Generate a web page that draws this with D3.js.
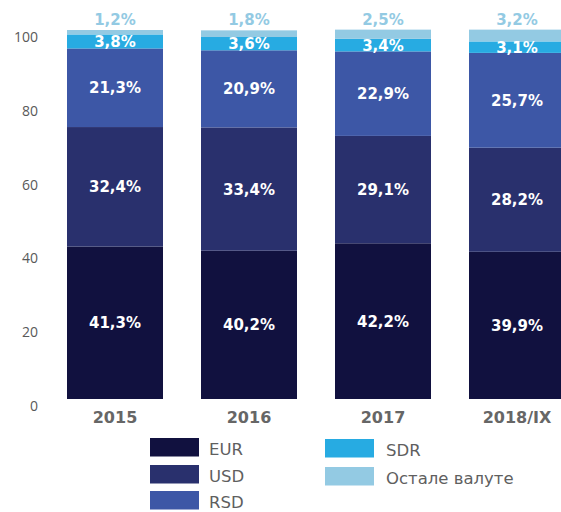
<!DOCTYPE html>
<html>
<head>
<meta charset="utf-8">
<script src="https://cdn.jsdelivr.net/npm/d3@7"></script>
<style>
  body { margin: 0; background: #fff; }
  svg { display: block; font-family: "DejaVu Sans", Verdana, sans-serif; }
</style>
</head>
<body>
<script>
// datos
var categorias = ["2015", "2016", "2017", "2018/IX"]
var eur = [41.3, 40.2, 42.2, 39.9]
var usd = [32.4, 33.4, 29.1, 28.2]
var rsd = [21.3, 20.9, 22.9, 25.7]
var sdr = [3.8, 3.6, 3.4, 3.1]
var otras = [1.2, 1.8, 2.5, 3.2]
var series = ["EUR", "USD", "RSD", "SDR", "Остале валуте"]
var ticksY = [0, 20, 40, 60, 80, 100]

var colores = ["#11113f", "#29306d", "#3d57a6", "#27abe2", "#93cae3"]

var width = 561
var height = 512

var datos = categorias.map(function (c, i) {
    return { cat: c, "EUR": eur[i], "USD": usd[i], "RSD": rsd[i], "SDR": sdr[i], "Остале валуте": otras[i] }
})

var escalaX = d3.scaleBand()
    .domain(categorias)
    .range([67, 565])
    .paddingInner(0.2836)

var escalaY = d3.scaleLinear()
    .domain([0, 100])
    .range([399, 30])

var escalaColor = d3.scaleOrdinal()
    .domain(series)
    .range(colores)

var formato = function (v) { return d3.format(".1f")(v).replace(".", ",") + "%" }

var svg = d3.select("body")
    .append("svg")
    .attr("width", width)
    .attr("height", height)

var pilas = d3.stack().keys(series)(datos)

// barras
var grupos = svg.selectAll("g.serie")
    .data(pilas)
    .enter()
    .append("g")
    .attr("class", "serie")
    .attr("fill", d => escalaColor(d.key))

grupos.selectAll("rect")
    .data(d => d)
    .enter()
    .append("rect")
    .attr("x", d => escalaX(d.data.cat))
    .attr("width", escalaX.bandwidth())
    .attr("y", d => escalaY(d[1]))
    .attr("height", d => escalaY(d[0]) - escalaY(d[1]))

// etiquetas de valores
pilas.forEach(function (serie, k) {
    svg.append("g")
        .selectAll("text")
        .data(serie)
        .enter()
        .append("text")
        .attr("x", d => escalaX(d.data.cat) + escalaX.bandwidth() / 2)
        .attr("y", function (d) {
            if (k == 4) return escalaY(d[1]) - 5
            return (escalaY(d[0]) + escalaY(d[1])) / 2 + 5.5
        })
        .attr("text-anchor", "middle")
        .attr("font-size", "15px")
        .attr("font-weight", "bold")
        .attr("fill", k == 4 ? "#93cae3" : "#ffffff")
        .text(d => formato(d[1] - d[0]))
})

// eje Y
var ejeY = d3.axisLeft(escalaY)
    .tickValues(ticksY)
    .tickSize(0)
    .tickPadding(0)

var gY = svg.append("g")
    .attr("transform", "translate(38,7)")
    .call(ejeY)
gY.select(".domain").remove()
gY.selectAll("text")
    .attr("font-family", "'Open Sans', sans-serif")
    .attr("font-size", "14px")
    .attr("fill", "#595959")

// eje X
var ejeX = d3.axisBottom(escalaX)
    .tickSize(0)
    .tickPadding(0)

var gX = svg.append("g")
    .attr("transform", "translate(0,412)")
    .call(ejeX)
gX.select(".domain").remove()
gX.selectAll("text")
    .attr("font-family", "'DejaVu Sans', sans-serif")
    .attr("font-size", "16px")
    .attr("font-weight", "bold")
    .attr("fill", "#666666")

// leyenda
var leyenda = svg.append("g")
var posLeyenda = [[150, 438], [150, 465], [150, 491], [325, 439], [325, 467]]

leyenda.selectAll("rect")
    .data(series)
    .enter()
    .append("rect")
    .attr("x", (d, i) => posLeyenda[i][0])
    .attr("y", (d, i) => posLeyenda[i][1])
    .attr("width", 49)
    .attr("height", 18.5)
    .attr("fill", d => escalaColor(d))

leyenda.selectAll("text")
    .data(series)
    .enter()
    .append("text")
    .attr("x", (d, i) => posLeyenda[i][0] + (i < 3 ? 59 : 61))
    .attr("y", (d, i) => posLeyenda[i][1] + 17)
    .attr("font-family", "'DejaVu Sans', sans-serif")
    .attr("font-size", "16.5px")
    .attr("fill", "#5f5f5f")
    .text(d => d)
</script>
</body>
</html>
